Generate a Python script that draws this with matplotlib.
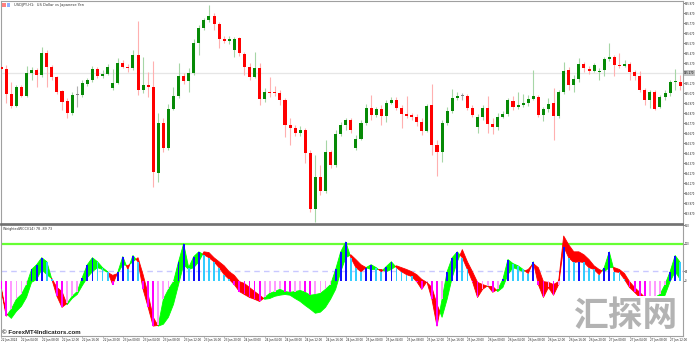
import numpy as np
import pandas as pd
import matplotlib
matplotlib.use("Agg")
import matplotlib.pyplot as plt
from matplotlib.patches import Rectangle

# USDJPY H1 candles
opens = [
    145.33, 145.31, 145.06, 144.94, 145.13, 145.04, 145.27, 145.30, 145.25, 145.47,
    145.33, 145.23, 145.09, 144.99, 144.87, 145.05, 145.05, 145.16, 145.20, 145.31,
    145.24, 145.26, 145.12, 145.17, 145.37, 145.33, 145.32, 145.45, 145.10, 145.15,
    145.13, 144.27, 144.77, 144.52, 144.91, 145.04, 145.24, 145.19, 145.27, 145.57,
    145.72, 145.80, 145.84, 145.76, 145.61, 145.59, 145.50, 145.62, 145.46, 145.33,
    145.23, 145.32, 145.01, 145.08, 145.08, 145.07, 145.00, 144.75, 144.72, 144.67,
    144.70, 144.47, 143.91, 144.23, 144.09, 144.48, 144.35, 144.66, 144.75, 144.80,
    144.52, 144.61, 144.77, 144.92, 144.85, 144.91, 144.84, 144.97, 145.00, 144.92,
    144.86, 144.85, 144.83, 144.78, 144.69, 144.95, 144.55, 144.48, 144.77, 144.89,
    145.02, 145.04, 145.04, 144.92, 144.73, 144.83, 144.92, 144.76, 144.73, 144.83,
    144.86, 144.99, 144.93, 144.95, 144.97, 145.01, 145.03, 144.85, 144.91, 144.97,
    144.84, 145.08, 145.30, 145.15, 145.21, 145.36, 145.31, 145.29, 145.28, 145.30,
    145.41, 145.43, 145.35, 145.34, 145.36, 145.28, 145.24, 145.10, 145.00, 145.08,
    144.93, 145.03, 145.07, 145.18, 145.18]
highs = [
    145.35, 145.35, 145.18, 145.15, 145.15, 145.34, 145.33, 145.32, 145.53, 145.50,
    145.35, 145.24, 145.10, 145.02, 145.08, 145.14, 145.20, 145.22, 145.34, 145.33,
    145.30, 145.36, 145.31, 145.42, 145.40, 145.36, 145.50, 145.79, 145.43, 145.28,
    145.39, 144.87, 144.82, 144.96, 145.13, 145.37, 145.27, 145.32, 145.61, 145.75,
    145.82, 145.95, 145.87, 145.78, 145.64, 145.64, 145.63, 145.63, 145.48, 145.37,
    145.48, 145.37, 145.12, 145.23, 145.14, 145.10, 145.02, 144.82, 144.75, 144.74,
    144.72, 144.50, 144.45, 144.35, 144.60, 144.50, 144.70, 144.78, 144.82, 144.82,
    144.65, 144.80, 144.96, 145.05, 144.93, 144.95, 145.00, 145.03, 145.03, 144.95,
    145.04, 144.87, 144.86, 144.82, 144.96, 145.16, 144.60, 144.80, 144.93, 145.11,
    145.08, 145.07, 145.06, 144.95, 144.86, 144.95, 145.04, 144.82, 144.87, 144.89,
    145.02, 145.04, 145.08, 145.06, 145.05, 145.30, 145.05, 144.93, 145.02, 145.12,
    145.10, 145.38, 145.33, 145.25, 145.42, 145.38, 145.34, 145.37, 145.32, 145.43,
    145.57, 145.45, 145.47, 145.40, 145.38, 145.30, 145.29, 145.12, 145.10, 145.10,
    145.05, 145.10, 145.20, 145.31, 145.25]
lows = [
    145.29, 144.97, 144.92, 144.93, 145.03, 145.03, 145.20, 145.13, 145.23, 145.13,
    145.20, 145.06, 144.90, 144.82, 144.85, 144.93, 145.03, 145.14, 145.18, 145.22,
    145.22, 145.25, 145.10, 145.16, 145.32, 145.28, 145.30, 145.05, 145.07, 145.03,
    144.13, 144.18, 144.48, 144.50, 144.90, 145.02, 145.16, 145.08, 145.25, 145.45,
    145.70, 145.78, 145.70, 145.52, 145.57, 145.56, 145.43, 145.44, 145.25, 145.20,
    145.22, 144.95, 144.98, 145.03, 145.04, 144.95, 144.63, 144.55, 144.64, 144.64,
    144.37, 143.88, 143.78, 144.05, 144.07, 144.32, 144.33, 144.64, 144.70, 144.67,
    144.50, 144.60, 144.75, 144.80, 144.83, 144.75, 144.78, 144.96, 144.90, 144.72,
    144.82, 144.80, 144.74, 144.65, 144.68, 144.45, 144.24, 144.38, 144.75, 144.87,
    145.00, 145.00, 144.90, 144.83, 144.67, 144.80, 144.67, 144.66, 144.70, 144.82,
    144.84, 144.90, 144.91, 144.93, 144.94, 145.00, 144.83, 144.79, 144.88, 144.60,
    144.82, 145.06, 145.10, 145.08, 145.18, 145.28, 145.26, 145.28, 145.20, 145.24,
    145.39, 145.24, 145.32, 145.33, 145.20, 145.20, 145.08, 144.95, 144.92, 144.90,
    144.92, 145.00, 145.04, 145.10, 145.10]
closes = [
    145.31, 145.06, 144.94, 145.13, 145.04, 145.27, 145.30, 145.25, 145.47, 145.33,
    145.23, 145.08, 144.98, 144.87, 145.05, 145.05, 145.17, 145.20, 145.31, 145.24,
    145.26, 145.33, 145.17, 145.37, 145.33, 145.32, 145.45, 145.10, 145.15, 145.13,
    144.28, 144.77, 144.52, 144.91, 145.04, 145.24, 145.19, 145.27, 145.57, 145.72,
    145.80, 145.84, 145.76, 145.61, 145.59, 145.61, 145.61, 145.47, 145.33, 145.23,
    145.32, 145.01, 145.08, 145.07, 145.07, 145.00, 144.75, 144.72, 144.67, 144.70,
    144.47, 143.91, 144.23, 144.09, 144.48, 144.35, 144.66, 144.75, 144.80, 144.70,
    144.61, 144.77, 144.92, 144.85, 144.91, 144.84, 144.97, 145.00, 144.92, 144.86,
    144.84, 144.83, 144.78, 144.69, 144.94, 144.55, 144.48, 144.77, 144.89, 145.02,
    145.04, 145.04, 144.92, 144.85, 144.83, 144.92, 144.76, 144.73, 144.83, 144.86,
    145.00, 144.93, 144.95, 144.97, 145.01, 145.04, 144.85, 144.91, 144.96, 144.84,
    145.08, 145.29, 145.15, 145.21, 145.36, 145.32, 145.29, 145.35, 145.29, 145.41,
    145.43, 145.35, 145.34, 145.36, 145.28, 145.24, 145.10, 145.00, 145.08, 144.91,
    145.03, 145.07, 145.18, 145.19, 145.14]

# indicator: fast and slow line
fast_line = [
    -24, -97, -78, -51, -38, -11, 30, 43, 62, 51,
    3, -43, -73, -62, -43, -30, 8, 43, 62, 51,
    35, 24, -11, 22, 65, 30, 68, 51, -24, -73,
    -124, -122, -51, -24, -3, 51, 100, 35, 65, 78,
    70, 62, 51, 35, 16, 3, -11, -30, -38, -46,
    -51, -57, -46, -35, -30, -24, -30, -32, -30, -27,
    -32, -40, -38, -35, -24, -11, 30, 78, 105, 62,
    35, 24, 35, 43, 35, 24, 38, 51, 35, 24,
    16, 11, -3, -24, -3, -51, -124, -51, 24, 62,
    78, 62, 30, -3, -46, -24, -14, -32, -24, 3,
    57, 46, 40, 30, 19, 51, -11, -46, -19, -40,
    -11, 92, 62, 49, 51, 49, 35, 30, 16, 35,
    78, 24, 22, 3, -19, -32, -46, -59, -57, -46,
    -38, -11, 24, 68, 49]
slow_line = [
    -19, -90, -103, -84, -70, -46, -5, 3, 30, 16,
    5, -19, -30, -66, -49, -38, -14, 8, 24, 35,
    30, 22, 14, 19, 43, 40, 51, 62, 16, -38,
    -100, -124, -119, -100, -65, -11, 43, 30, 35, 51,
    78, 76, 62, 51, 40, 24, 14, -3, -8, -19,
    -30, -40, -51, -49, -43, -40, -38, -40, -49, -57,
    -68, -78, -89, -86, -73, -51, -24, 24, 62, 70,
    57, 43, 35, 30, 30, 30, 24, 30, 40, 35,
    30, 24, 16, 3, -5, -19, -65, -100, -51, 8,
    51, 84, 51, 24, -5, -11, -16, -16, -30, -19,
    16, 35, 30, 24, 30, 46, 35, -3, -5, -11,
    -3, 121, 97, 78, 78, 70, 57, 40, 30, 24,
    35, 35, 30, 19, -3, -19, -32, -46, -68, -65,
    -57, -40, -3, 24, 3]

level_high = 100
level_mid = 25
bid_price = 145.27
ind_ticks = [150, 100, 25, 0]
times = pd.date_range("2024-01-22 00:00", periods=len(closes), freq="h")

fig = plt.figure(figsize=(6.96, 3.42), dpi=100)
ax = fig.add_axes([0.001, 0.345, 0.98, 0.652])
ax2 = fig.add_axes([0.001, 0.0175, 0.98, 0.3246])

x = np.arange(len(closes))
o = np.array(opens)
c = np.array(closes)
h = np.array(highs)
l = np.array(lows)

# candles
up = c > o
down = c < o
body_col = np.where(up, "#068a06", np.where(down, "#ff0000", "#808080"))
wick_col = np.where(up, "#a6d6a6", np.where(down, "#ffb0b0", "#b0b0b0"))
ax.vlines(x, l, h, colors=wick_col, lw=0.8, zorder=2)
body_h = np.maximum(np.abs(c - o), 0.012)
ax.bar(x, body_h, bottom=np.minimum(o, c), width=0.6, color=body_col, lw=0, zorder=3)

ax.axhline(bid_price, color="#e6e6e6", lw=0.9, zorder=1)
ax.set_xlim(-0.1, 134.5)
ax.set_ylim(143.76, 145.99)
ax.set_xticks([])
price_ticks = [t for t in np.round(np.arange(145.97, 143.80, -0.10), 2) if abs(t - bid_price) > 0.03]
ax.yaxis.tick_right()
ax.set_yticks(price_ticks)
ax.set_yticklabels([f"{t:.3f}" for t in price_ticks])
ax.tick_params(axis="y", labelsize=1.8, length=1.2, width=0.4, pad=0.5, colors="#222222")
ax.text(1.002, bid_price, f"{bid_price:.3f}", transform=ax.get_yaxis_transform(),
        fontsize=1.8, va="center", ha="left",
        bbox=dict(boxstyle="square,pad=0.25", fc="#c4c4c4", ec="none"))

# indicator panel
f = np.array(fast_line)
s = np.array(slow_line)
ax2.axhline(level_high, color="#66ff33", lw=1.6, zorder=1)
ax2.axhline(level_mid, color="#c8c8ff", lw=1.0, ls=(0, (4, 3)), zorder=1)
ax2.fill_between(x, f, s, where=f >= s, interpolate=True, color="#00ff00", lw=0.6, zorder=2)
ax2.fill_between(x, f, s, where=f < s, interpolate=True, color="#ff0000", lw=0.6, zorder=2)

diff = np.diff(f, prepend=f[0] + 1)
bar_col = []
for val, d in zip(f, diff):
    if d == 0:
        bar_col.append("#909090")
    elif val >= 0:
        bar_col.append("#1010ff" if d > 0 else "#33ccff")
    else:
        bar_col.append("#ff00ff" if d < 0 else "#ff99ff")
ax2.bar(x, f, width=0.35, color=bar_col, lw=0, zorder=3)

ax2.set_xlim(-0.1, 134.5)
ax2.set_ylim(-151, 151)
ax2.yaxis.tick_right()
ax2.set_yticks(ind_ticks)
ax2.set_yticklabels([str(t) for t in ind_ticks])
ax2.tick_params(axis="y", labelsize=1.8, length=1.2, width=0.4, pad=0.5, colors="#222222")

tick_pos = x[::4]
tick_labels = [times[0].strftime("%d %b %Y")] + [t.strftime("%d %b %H:%M") for t in times[4::4]]
ax2.set_xticks(tick_pos)
ax2.set_xticklabels(tick_labels)
plt.setp(ax2.get_xticklabels(), ha="left")
ax2.tick_params(axis="x", labelsize=2.0, length=1.0, width=0.4, pad=0.3, colors="#222222")

for a in (ax, ax2):
    for sp in a.spines.values():
        sp.set_color("#a0a0a0")
        sp.set_linewidth(0.8)
ax.spines["bottom"].set_color("#6e6e6e")
ax.spines["bottom"].set_linewidth(1.2)
ax2.spines["top"].set_color("#6e6e6e")
ax2.spines["top"].set_linewidth(1.2)

# texts
fig.patches.append(Rectangle((0.003, 0.979), 0.005, 0.013, transform=fig.transFigure,
                             fc="#ff8080", ec="none"))
fig.patches.append(Rectangle((0.010, 0.979), 0.005, 0.013, transform=fig.transFigure,
                             fc="#8fb0ff", ec="none"))
fig.text(0.02, 0.986, "USDJPY,H1:  US Dollar vs Japanese Yen", fontsize=2.6,
         color="#333333", va="center")
fig.text(0.004, 0.331, "WeightedWCCI(14) 78 -89 73", fontsize=2.4, color="#333333", va="center")
fig.text(0.003, 0.028, "© ForexMT4Indicators.com", fontsize=4.4, fontweight="bold",
         color="#222222", family="Liberation Sans", va="center")

# watermark
fig.patches.append(Rectangle((0.819, 0.0195), 0.159, 0.115, transform=fig.transFigure,
                             fc="white", ec="none", zorder=5))
fig.text(0.898, 0.077, "汇探网", fontsize=25, fontweight="bold", color="#b3b3b3",
         ha="center", va="center", family=["Noto Sans CJK SC", "DejaVu Sans"], zorder=6)

fig.savefig("out.png", dpi=100)
